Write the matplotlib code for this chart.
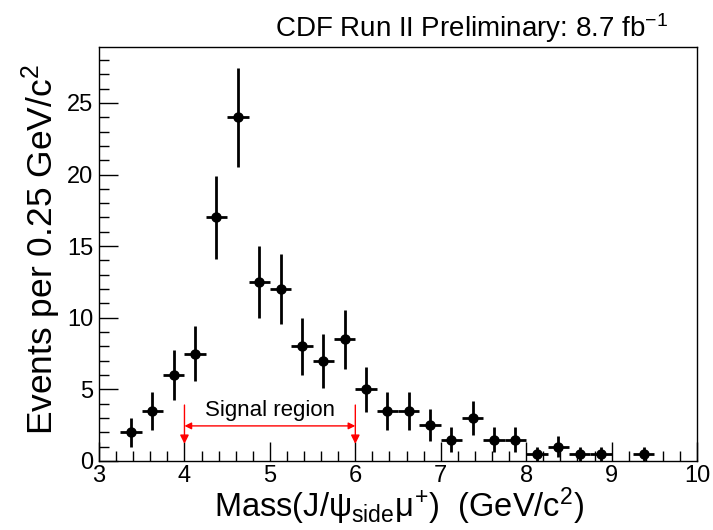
import matplotlib
matplotlib.use("Agg")
import matplotlib.pyplot as plt
from matplotlib.ticker import MultipleLocator

plt.rcParams['font.family'] = ['Liberation Sans', 'DejaVu Sans']
plt.rcParams['mathtext.fontset'] = 'custom'
plt.rcParams['mathtext.rm'] = 'Liberation Sans'
plt.rcParams['mathtext.it'] = 'Liberation Sans'
plt.rcParams['mathtext.sf'] = 'Liberation Sans'

mass = [3.375, 3.625, 3.875, 4.125, 4.375, 4.625, 4.875, 5.125, 5.375, 5.625,
        5.875, 6.125, 6.375, 6.625, 6.875, 7.125, 7.375, 7.625, 7.875, 8.125,
        8.375, 8.625, 8.875, 9.375]
events = [2, 3.5, 6, 7.5, 17, 24, 12.5, 12, 8, 7,
          8.5, 5, 3.5, 3.5, 2.5, 1.5, 3, 1.5, 1.5, 0.5,
          1, 0.5, 0.5, 0.5]
errors = [1.0, 1.32, 1.73, 1.94, 2.92, 3.46, 2.5, 2.45, 2.0, 1.87,
          2.06, 1.58, 1.32, 1.32, 1.12, 0.87, 1.22, 0.87, 0.87, 0.5,
          0.71, 0.5, 0.5, 0.5]
bin_half = 0.125
signal_lo, signal_hi = 4.0, 6.0

fig = plt.figure(figsize=(7.13, 5.30), dpi=100)
ax = fig.add_axes([0.1389, 0.1302, 0.9776 - 0.1389, 0.9113 - 0.1302])

ax.errorbar(mass, events, yerr=errors, xerr=bin_half, fmt='o', color='black',
            ms=6.5, elinewidth=2, capsize=0)

ax.set_xlim(3, 10)
ax.set_ylim(0, 28.9)
ax.xaxis.set_major_locator(MultipleLocator(1))
ax.xaxis.set_minor_locator(MultipleLocator(0.2))
ax.yaxis.set_major_locator(MultipleLocator(5))
ax.yaxis.set_minor_locator(MultipleLocator(1))
ax.tick_params(which='both', direction='in', top=False, right=False,
               labelsize=17, width=1)
ax.tick_params(which='major', length=14)
ax.tick_params(which='minor', length=7)
ax.tick_params(axis='x', pad=3)
ax.tick_params(axis='y', pad=4)
for s in ax.spines.values():
    s.set_linewidth(1)

fig.text(399 / 713, 1 - 517 / 530,
         r'Mass(J/$\psi_{\rm side}\mu^{+}$)  (GeV/c$^{2}$)', fontsize=23.5,
         ha='center', va='baseline')
fig.text(53 / 713, 1 - 435 / 530, r'Events per 0.25 GeV/c$^{2}$', fontsize=25.5,
         rotation=90, ha='left', va='baseline', rotation_mode='anchor')

fig.text(668 / 713, 1 - 37 / 530, r'CDF Run II Preliminary: 8.7 fb$^{-1}$',
         ha='right', va='baseline', fontsize=20)

red = '#ff0000'
for xv in (signal_lo, signal_hi):
    ax.annotate('', xy=(xv, 1.0), xytext=(xv, 4.1),
                arrowprops=dict(arrowstyle='-|>', color=red, lw=1,
                                mutation_scale=13))
ax.annotate('', xy=(signal_lo, 2.45), xytext=(signal_hi, 2.45),
            arrowprops=dict(arrowstyle='<|-|>', color=red, lw=1,
                            mutation_scale=10, shrinkA=0, shrinkB=0))
ax.text((signal_lo + signal_hi) / 2, 3.5, 'Signal region', ha='center',
        va='center', fontsize=16)

fig.savefig('out.png', dpi=100)
